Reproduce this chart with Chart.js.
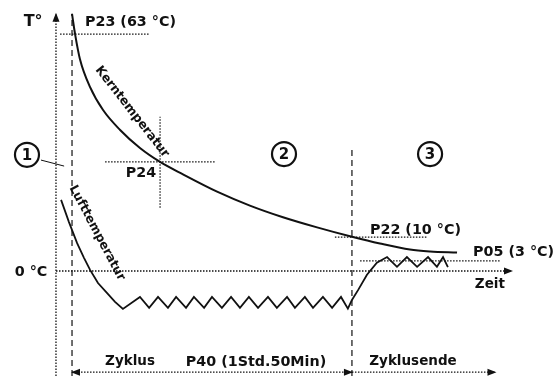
<!DOCTYPE html>
<html><head><meta charset="utf-8">
<script src="https://cdn.jsdelivr.net/npm/chart.js@4"></script>
<style>html,body{margin:0;padding:0;background:#fff;overflow:hidden}canvas{display:block}</style>
</head><body>
<canvas id="c" width="554" height="376" style="width:554px;height:376px"></canvas>
<script>
// time in minutes from cycle start, temperature in °C (schematic)
const coreTime = [0, 0.4, 1.2, 3.1, 7.1, 12.2, 18.9, 26.7, 34.6, 43.6, 57.0, 69.9, 82.9, 96.3, 110, 121, 132.8, 140.7, 151.3];
const coreTemp = [68.4, 66.5, 63.0, 56.4, 48.9, 42.8, 37.5, 32.7, 29.0, 25.7, 21.1, 17.4, 14.3, 11.6, 9.1, 7.3, 5.7, 5.2, 4.9];

const airTime = [-4.3, -1.2, 2.0, 4.7, 7.1, 10.2, 13.8, 16.9, 20.0,
  26.7, 30.3, 33.8, 37.7, 40.9, 44.8, 47.9, 51.9, 55.0, 58.9, 62.5, 66.0,
  69.5, 73.1, 77.0, 80.5, 84.5, 87.6, 91.5, 94.7, 98.6, 102.2, 105.7, 108.4,
  110, 112.4, 115.9, 119.8, 123.8, 127.7, 131.6, 135.6, 139.9, 143.4, 145.8, 147.7];
const airTemp = [18.9, 13.0, 7.4, 3.5, 0.3, -3.2, -5.9, -8.2, -10.1,
  -6.9, -9.8, -6.9, -9.8, -6.9, -9.8, -6.9, -9.8, -6.9, -9.8, -6.9, -9.8,
  -6.9, -9.8, -6.9, -9.8, -6.9, -9.8, -6.9, -9.8, -6.9, -9.8, -6.9, -10.0,
  -7.7, -5.1, -1.0, 2.2, 3.7, 1.1, 3.7, 1.1, 3.7, 1.1, 3.7, 1.0];

// parameter reference lines: temperature level and time span
const refNames = ['P23', 'P24', 'P22', 'P05'];
const refTemp = [63, 29, 9, 2.7];
const refFrom = [-4.7, 13.0, 103.3, 113.2];
const refTo = [30.6, 56.2, 139.5, 168.2];
const p24Time = 34.6, p24TempRange = [16.8, 41.0];

const cycleStart = 0, cycleEnd = 110;   // P40
const axisTime = -6.3, axisTop = 68.4, zeroEnd = 172.9;
const spanLevel = -26.9, endEnd = 166.4;
const tMin = -28.3, tMax = 189.4, TMin = -27.93, TMax = 72.07;

const ink = '#111';
const dotted = [1.5, 1.5], dashed = [6, 4];
function seg(x0, y0, x1, y1, dash, w) {
  return {data: [{x: x0, y: y0}, {x: x1, y: y1}], borderColor: ink, borderWidth: w || 1,
    borderDash: dash || [], pointRadius: 0, tension: 0, fill: false};
}
const datasets = [
  {label: 'Kerntemperatur', data: coreTime.map((t, i) => ({x: t, y: coreTemp[i]})),
   borderColor: ink, borderWidth: 2, pointRadius: 0, cubicInterpolationMode: 'monotone', fill: false},
  {label: 'Lufttemperatur', data: airTime.map((t, i) => ({x: t, y: airTemp[i]})),
   borderColor: ink, borderWidth: 1.8, pointRadius: 0, tension: 0, fill: false},
  seg(axisTime, TMin, axisTime, axisTop, dotted, 1.3),
  seg(cycleStart, TMin, cycleStart, axisTop, dashed, 1.2),
  seg(cycleEnd, TMin, cycleEnd, 32.2, dashed, 1.2),
  seg(axisTime, 0, zeroEnd, 0, dotted, 1.3),
  seg(p24Time, p24TempRange[0], p24Time, p24TempRange[1], dotted, 1.2),
  seg(cycleStart, spanLevel, cycleEnd, spanLevel, dotted, 1.3),
  seg(cycleEnd, spanLevel, endEnd, spanLevel, dotted, 1.3),
  seg(-12.2, 29.5, -3.1, 27.9, [], 1)
];
refNames.forEach((n, i) => datasets.push(seg(refFrom[i], refTemp[i], refTo[i], refTemp[i], dotted, 1.2)));

const FONT = 'bold 14.3px "DejaVu Sans", Verdana, sans-serif';
const FONT_S = 'bold 13.5px "DejaVu Sans", Verdana, sans-serif';
const labels = [
  {s: 'T°', t: -15.3, T: 66.3, a: 'center', f: 'bold 16px "DejaVu Sans"'},
  {s: 'P23 (63 °C)', t: 5.1, T: 66.2, a: 'left'},
  {s: 'P24', t: 27.1, T: 26.1, a: 'center'},
  {s: 'P22 (10 °C)', t: 117.1, T: 10.9, a: 'left'},
  {s: 'P05 (3 °C)', t: 157.6, T: 5.1, a: 'left'},
  {s: '0 °C', t: -16.1, T: -0.3, a: 'center'},
  {s: 'Zeit', t: 164.2, T: -3.7, a: 'center', f: FONT_S},
  {s: 'Zyklus', t: 22.8, T: -24.2, a: 'center', f: FONT_S},
  {s: 'P40 (1Std.50Min)', t: 72.3, T: -24.2, a: 'center'},
  {s: 'Zyklusende', t: 134.0, T: -24.2, a: 'center', f: FONT_S}
];
const circles = [{s: '1', t: -17.7, T: 30.9}, {s: '2', t: 83.3, T: 31.1}, {s: '3', t: 140.7, T: 31.1}];
const rotated = [
  {s: 'Kerntemperatur', t: 23.6, T: 42.3, ang: 52, w: 112},
  {s: 'Lufttemperatur', t: 9.8, T: 10.1, ang: 62, w: 106}
];
// arrowheads: [time, temp, direction]
const arrows = [[axisTime, axisTop, 'up'], [zeroEnd, 0, 'right'], [cycleStart, spanLevel, 'left'],
  [cycleEnd, spanLevel, 'right'], [endEnd, spanLevel, 'right']];

const deco = {
  id: 'deco',
  afterDatasetsDraw(c) {
    const X = c.scales.x, Y = c.scales.y, ctx = c.ctx;
    const px = t => X.getPixelForValue(t), py = T => Y.getPixelForValue(T);
    ctx.save();
    ctx.fillStyle = ink; ctx.strokeStyle = ink;
    arrows.forEach(([t, T, d]) => {
      const x = px(t), y = py(T), L = 8, h = 3.5;
      ctx.beginPath();
      if (d === 'up') { ctx.moveTo(x, y - 1); ctx.lineTo(x - h, y + L); ctx.lineTo(x + h, y + L); }
      if (d === 'right') { ctx.moveTo(x + 1, y); ctx.lineTo(x - L, y - h); ctx.lineTo(x - L, y + h); }
      if (d === 'left') { ctx.moveTo(x - 1, y); ctx.lineTo(x + L, y - h); ctx.lineTo(x + L, y + h); }
      ctx.closePath(); ctx.fill();
    });
    ctx.textBaseline = 'middle';
    labels.forEach(l => {
      ctx.font = l.f || FONT; ctx.textAlign = l.a;
      ctx.fillText(l.s, px(l.t), py(l.T));
    });
    circles.forEach(k => {
      const x = px(k.t), y = py(k.T);
      ctx.lineWidth = 2.2;
      ctx.beginPath(); ctx.arc(x, y, 12, 0, Math.PI * 2); ctx.stroke();
      ctx.font = 'bold 15px "DejaVu Sans"'; ctx.textAlign = 'center';
      ctx.fillText(k.s, x, y + 1);
    });
    rotated.forEach(r => {
      ctx.save();
      ctx.translate(px(r.t), py(r.T));
      ctx.rotate(r.ang * Math.PI / 180);
      ctx.font = 'bold 12.5px "DejaVu Sans"'; ctx.textAlign = 'center';
      ctx.fillText(r.s, 0, 0, r.w);
      ctx.restore();
    });
    ctx.restore();
  }
};

new Chart(document.getElementById('c'), {
  type: 'line',
  data: {datasets},
  options: {
    responsive: false, animation: false, devicePixelRatio: 1,
    layout: {padding: 0},
    plugins: {legend: {display: false}, tooltip: {enabled: false}},
    scales: {
      x: {type: 'linear', min: tMin, max: tMax, display: false},
      y: {type: 'linear', min: TMin, max: TMax, display: false}
    }
  },
  plugins: [deco]
});
</script>
</body></html>
